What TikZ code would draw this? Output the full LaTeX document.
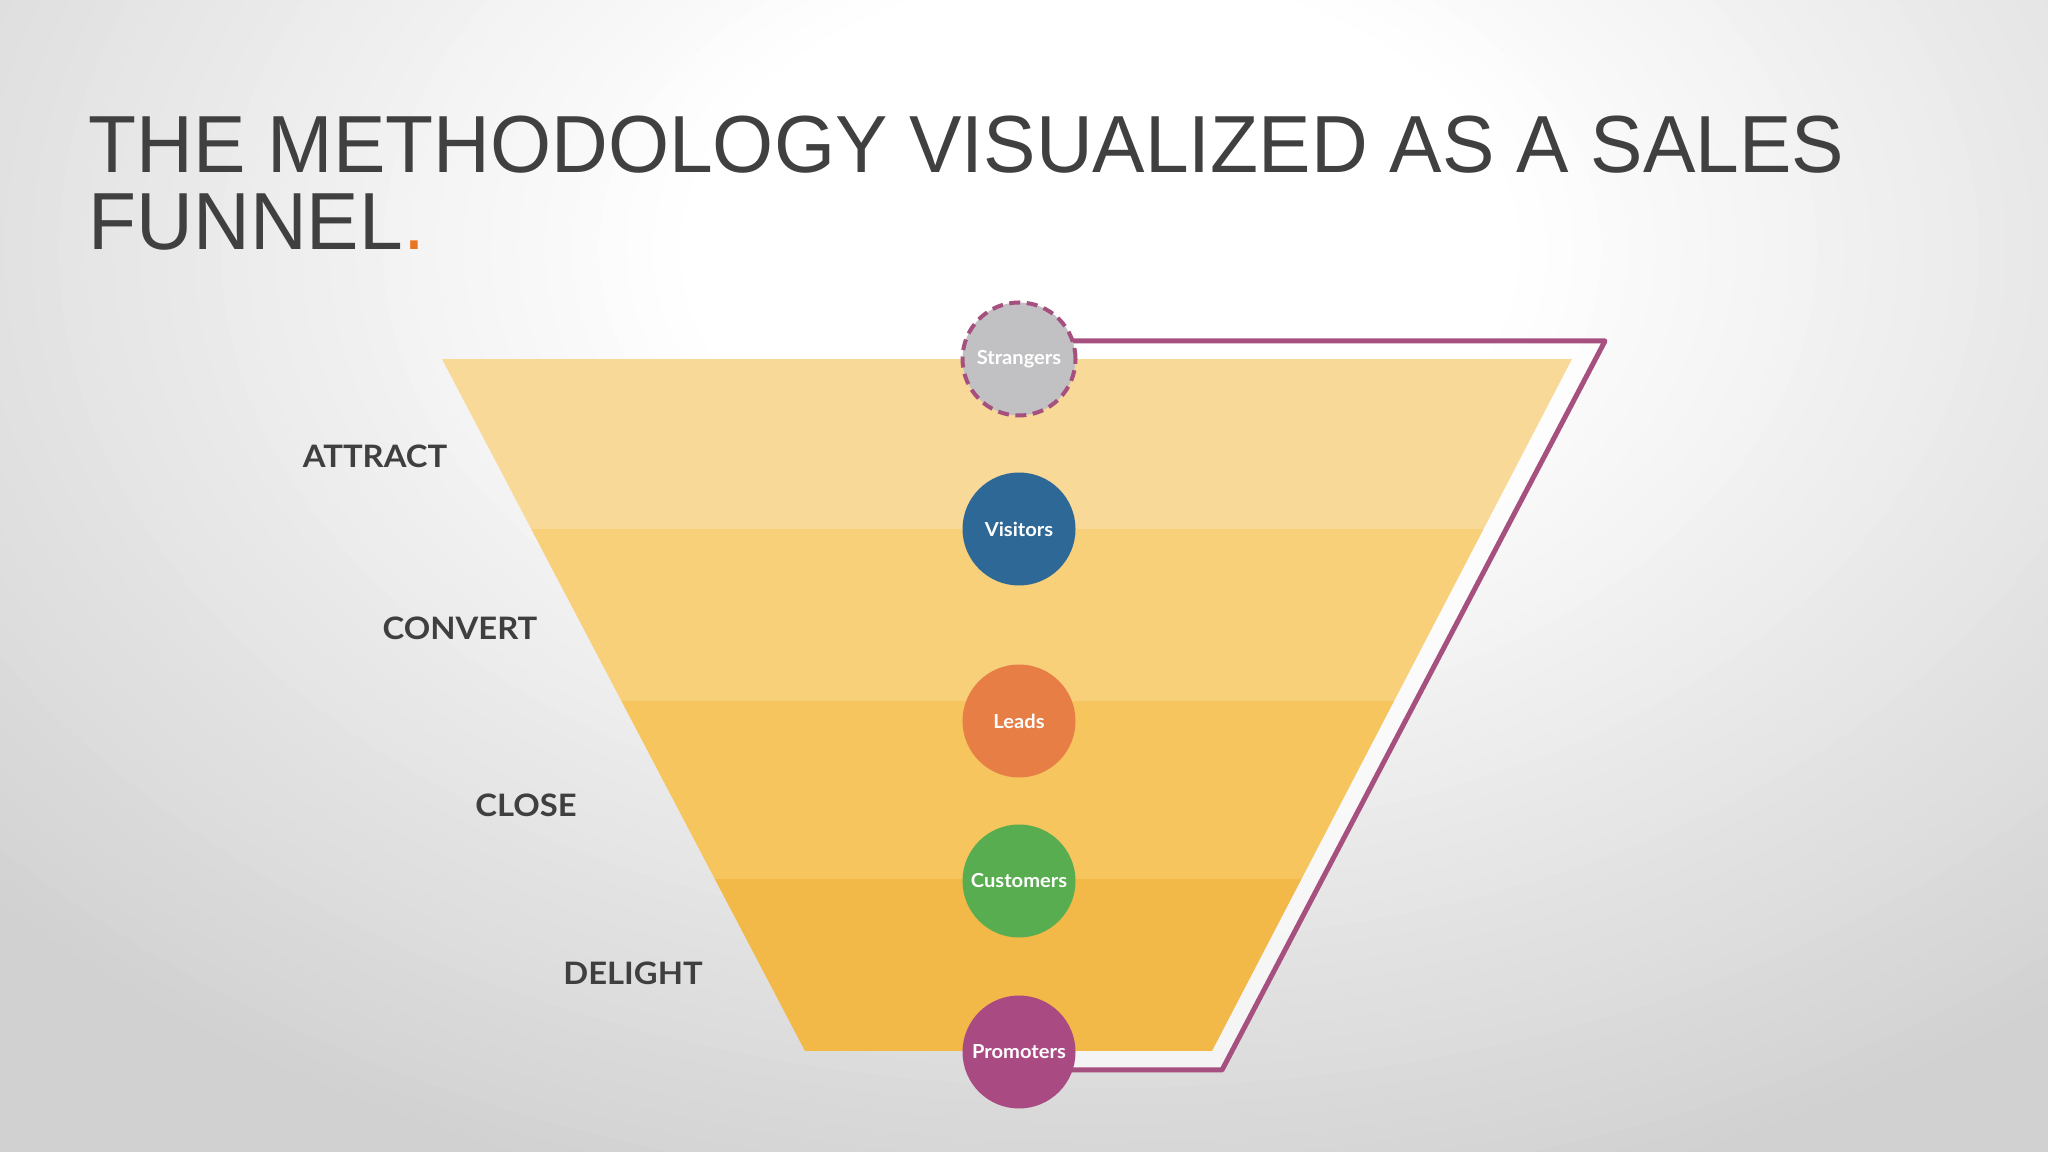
\documentclass[tikz,border=0pt]{standalone}
\usepackage{fontspec}
\setmainfont{Liberation Sans}
\newfontfamily\titlefont[FakeStretch=0.97]{Liberation Sans}
\newfontfamily\labfont[FakeStretch=1.06]{Lato}
\newfontfamily\circfont[FakeStretch=1.04]{Lato}
\definecolor{bandA}{HTML}{F9D997}
\definecolor{bandB}{HTML}{F8D07A}
\definecolor{bandC}{HTML}{F6C55E}
\definecolor{bandD}{HTML}{F3B948}
\definecolor{cVis}{HTML}{2E6896}
\definecolor{cLead}{HTML}{E67E45}
\definecolor{cCust}{HTML}{57AD4F}
\definecolor{cProm}{HTML}{A94A83}
\definecolor{cStr}{HTML}{C1C0C2}
\definecolor{purp}{HTML}{A6507F}
\definecolor{titlegray}{HTML}{404040}
\definecolor{labgray}{HTML}{3F3F3F}
\definecolor{dotorange}{HTML}{E8761F}
\pgfdeclarelayer{bglayer}
\pgfdeclarelayer{midlayer}
\pgfsetlayers{bglayer,midlayer,main}
\tikzset{
  circ/.style={circle, minimum size=11.3mm, inner sep=0pt, text=white,
    font=\circfont\bfseries\fontsize{5.5}{6}\selectfont},
  stagelabel/.style={text=labgray, inner sep=0pt,
    font=\labfont\bfseries\fontsize{8.8}{10}\selectfont},
  titletext/.style={anchor=base west, inner sep=0pt, text=titlegray,
    font=\titlefont\fontsize{23.05}{26}\selectfont},
  loopline/.style={draw=purp, line width=0.5mm, line join=round}
}
\begin{document}
\begin{tikzpicture}[x=0.1mm,y=-0.1mm]
\useasboundingbox (0,0) rectangle (2048,1152);
\begin{pgfonlayer}{bglayer}
  \begin{scope}
    \clip (0,0) rectangle (2048,1152);
    \fill[black!18] (0,0) rectangle (2048,1152);
    \foreach \i [evaluate=\i as \f using {1-0.72*\i/40},
                 evaluate=\i as \g using {18*(1-\i/40)}] in {0,...,40}
      \fill[black!\g] (1100,250) ellipse [x radius={15cm*\f}, y radius={10cm*\f}];
    % light halo between funnel and loop line
    \fill[white, opacity=0.7] (1019,340) -- (1605,340) -- (1222,1071) -- (1019,1071) -- cycle;
  \end{scope}
  \begin{scope}
    \clip (442,359) -- (1572,359) -- (1212,1051) -- (805,1051) -- cycle;
    \fill[bandA] (400,359) rectangle (1600,529);
    \fill[bandB] (400,529) rectangle (1600,701);
    \fill[bandC] (400,701) rectangle (1600,879);
    \fill[bandD] (400,879) rectangle (1600,1051);
  \end{scope}
\end{pgfonlayer}

% title
\node[titletext] (t1) at (88,173) {THE METHODOLOGY VISUALIZED AS A SALES};
\node[titletext] (t2) at (88,250) {FUNNEL\textcolor{dotorange}{.}};

% stage labels
\node[stagelabel] (attract) at (375,456) {ATTRACT};
\node[stagelabel] (convert) at (460,628) {CONVERT};
\node[stagelabel] (close) at (526,805) {CLOSE};
\node[stagelabel] (delight) at (633,973) {DELIGHT};

% circles
\node[circ, fill=cStr, draw=purp, line width=0.4mm, dash pattern=on 1.1mm off 0.65mm] (strangers) at (1019,359) {Strangers};
\node[circ, fill=cVis] (visitors) at (1019,529) {Visitors};
\node[circ, fill=cLead] (leads) at (1019,721) {Leads};
\node[circ, fill=cCust] (customers) at (1019,881) {Customers};
\node[circ, fill=cProm] (promoters) at (1019,1052) {Promoters};

% loop line
\coordinate (tr) at (1605,341);
\coordinate (br) at (1222,1070);
\begin{pgfonlayer}{midlayer}
  \draw[loopline] (strangers.center) ++(0,-18) -- (tr) -- (br) -- (promoters.center |- br);
\end{pgfonlayer}
\end{tikzpicture}
\end{document}
